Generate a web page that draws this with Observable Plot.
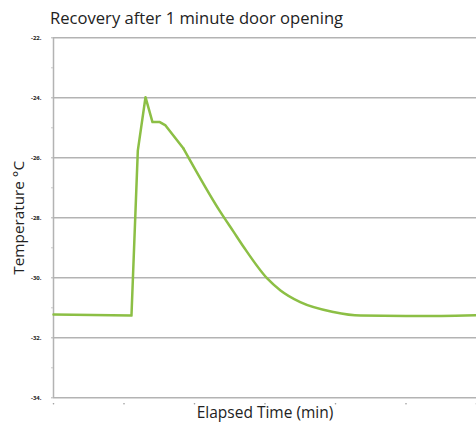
<!DOCTYPE html>
<html><head><meta charset="utf-8">
<script src="https://cdn.jsdelivr.net/npm/d3@7"></script>
<script src="https://cdn.jsdelivr.net/npm/@observablehq/plot@0.6"></script>
<style>
body{margin:0;background:#fff;font-family:"Open Sans",sans-serif;}
#title{box-sizing:border-box;height:28px;padding-top:3px;padding-left:50px;font-size:16.6px;line-height:30px;color:#222;white-space:nowrap;overflow:visible;}
#chart svg{display:block;}
</style></head><body>
<div id="title">Recovery after 1 minute door opening</div>
<div id="chart"></div>
<script>
const times = [0, 1.106, 1.196, 1.305, 1.404, 1.508, 1.589, 1.844, 2.369, 2.553, 2.70, 3.031, 3.22, 3.50, 3.97, 4.355, 5.0, 5.5, 6.0];
const temps = [-31.22, -31.26, -25.76, -23.98, -24.81, -24.81, -24.92, -25.69, -27.81, -28.46, -28.98, -30.02, -30.42, -30.81, -31.14, -31.26, -31.27, -31.27, -31.25];
const yTicks = [-22, -24, -26, -28, -30, -32, -34];
const yMinor = [-23, -25, -27, -29, -31, -33];
const xTicks = [0, 1, 2, 3, 4, 5, 6];
const data = times.map((t, i) => ({t, v: temps[i]}));
const head = data.slice(0, 8);
const tail = data.slice(7);

const chart = Plot.plot({
  width: 476, height: 395,
  marginTop: 9.3, marginBottom: 25.7, marginLeft: 53, marginRight: 0,
  x: {domain: [0, 6], axis: null},
  y: {domain: [-34, -22]},
  style: {fontFamily: "Open Sans", background: "#fff", color: "#222"},
  marks: [
    Plot.ruleY(yTicks, {stroke: "#b3b3b3", strokeWidth: 1.5}),
    Plot.ruleX([0], {stroke: "#b3b3b3", strokeWidth: 1.5}),
    Plot.axisY({ticks: yTicks, tickSize: 2, tickFormat: d => d + ".", fontSize: 6, fontWeight: "bold", tickPadding: 10, label: null, stroke: "#b3b3b3"}),
    Plot.axisY({ticks: yMinor, tickSize: 2, tickFormat: () => "", label: null, stroke: "#c8c8c8"}),
    Plot.dot(xTicks, {x: d => d, y: () => -34, dy: 6, r: 0.8, fill: "#999", stroke: null}),
    Plot.line(head, {x: "t", y: "v", stroke: "#8cbf45", strokeWidth: 2.5, strokeLinejoin: "round"}),
    Plot.line(tail, {x: "t", y: "v", stroke: "#8cbf45", strokeWidth: 2.5, curve: "monotone-x"}),
    Plot.text(["Temperature °C"], {frameAnchor: "left", textAnchor: "middle", dx: -34, rotate: -90, fontSize: 15.3, fill: "#222"}),
    Plot.text(["Elapsed Time (min)"], {frameAnchor: "bottom", textAnchor: "middle", dy: 15, lineAnchor: "middle", fontSize: 15.5, fill: "#222"})
  ]
});
document.getElementById("chart").appendChild(chart);
</script>
</body></html>
